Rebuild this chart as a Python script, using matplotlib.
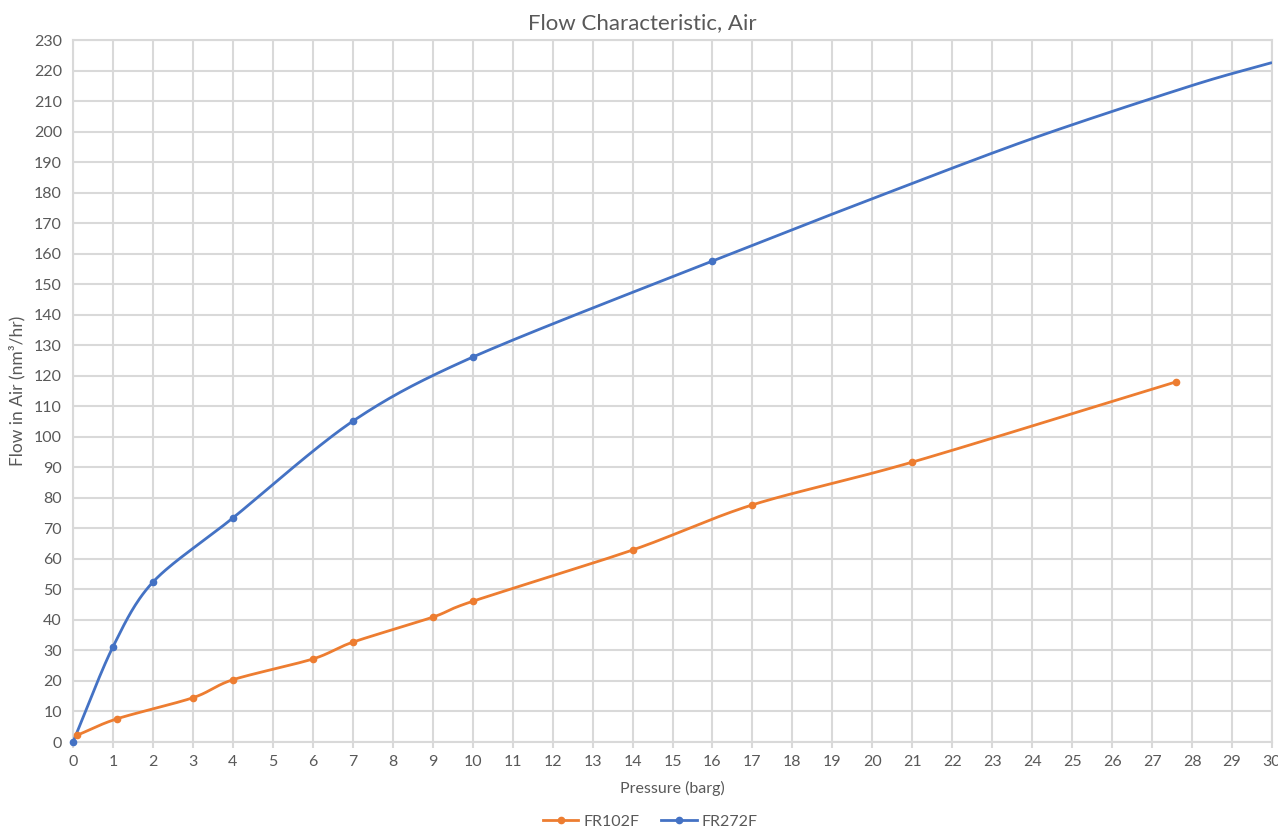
import numpy as np
import matplotlib
matplotlib.use("Agg")
import matplotlib.pyplot as plt

plt.rcParams['font.family'] = ['Lato', 'DejaVu Sans']

# Data
fr102_x = [0.1, 1.1, 3, 4, 6, 7, 9, 10, 14, 17, 21, 27.6]
fr102_y = [2.2, 7.6, 14.5, 20.4, 27.2, 32.7, 40.9, 46.1, 62.9, 77.7, 91.7, 118.0]
fr272_x = [0, 1, 2, 4, 7, 10, 16]
fr272_y = [0, 31.2, 52.4, 73.4, 105.1, 126.1, 157.6]
# unmarked tail of the FR272F curve (line continues to right edge)
fr272_tail_x = [20, 24, 28, 30]
fr272_tail_y = [178.0, 197.7, 215.1, 222.6]

x_ticks = list(range(0, 31))
y_ticks = list(range(0, 231, 10))

ORANGE = '#ED7D31'
BLUE = '#4472C4'
GRID = '#D9D9D9'
TEXT = '#595959'


def smooth(xs, ys, n=30):
    pts = np.column_stack([xs, ys]).astype(float)
    p = np.vstack([pts[0] - (pts[1] - pts[0]), pts, pts[-1] + (pts[-1] - pts[-2])])
    out = []
    t = np.linspace(0, 1, n)[:, None]
    for i in range(1, len(p) - 2):
        p0, p1, p2, p3 = p[i - 1], p[i], p[i + 1], p[i + 2]
        m1 = (p2 - p0) / 2 * 0.9
        m2 = (p3 - p1) / 2 * 0.9
        h00 = 2 * t**3 - 3 * t**2 + 1
        h10 = t**3 - 2 * t**2 + t
        h01 = -2 * t**3 + 3 * t**2
        h11 = t**3 - t**2
        seg = h00 * p1 + h10 * m1 + h01 * p2 + h11 * m2
        out.append(seg if i == 1 else seg[1:])
    out = np.vstack(out)
    return out[:, 0], out[:, 1]


fig = plt.figure(figsize=(12.78, 8.30), dpi=100)
ax = fig.add_axes([73 / 1278, 88 / 830, 1199 / 1278, 702 / 830])

sx, sy = smooth(fr102_x, fr102_y)
ax.plot(sx, sy, color=ORANGE, lw=2.0, solid_capstyle='round', zorder=3)
ax.plot(fr102_x, fr102_y, 'o', color=ORANGE, ms=4.5, zorder=4)

bx, by = smooth(fr272_x + fr272_tail_x, fr272_y + fr272_tail_y)
ax.plot(bx, by, color=BLUE, lw=2.0, solid_capstyle='butt', zorder=3)
ax.plot(fr272_x, fr272_y, 'o', color=BLUE, ms=4.5, zorder=4, clip_on=False)

# legend proxies
ax.plot([], [], '-o', color=ORANGE, lw=2.0, ms=4.5, label='FR102F')
ax.plot([], [], '-o', color=BLUE, lw=2.0, ms=4.5, label='FR272F')

ax.set_xlim(0, 30)
ax.set_ylim(0, 230)
ax.set_xticks(x_ticks)
ax.set_yticks(y_ticks)
ax.grid(True, color=GRID, lw=1.5, zorder=0)
for s in ax.spines.values():
    s.set_color(GRID)
    s.set_linewidth(1.5)
ax.tick_params(axis='x', colors=TEXT, labelsize=11.5, length=4, width=1.5, color=GRID, pad=5)
ax.tick_params(axis='y', colors=TEXT, labelsize=11.5, length=0, pad=8)

fig.text(642 / 1278, 1 - 23 / 830, 'Flow Characteristic, Air', color=TEXT, fontsize=16,
         ha='center', va='center')
ax.set_xlabel('Pressure (barg)', color=TEXT, fontsize=11.5, labelpad=9)
ax.set_ylabel('Flow in Air (nm³/hr)', color=TEXT, fontsize=12.5, labelpad=6)

leg = ax.legend(loc='upper center', bbox_to_anchor=(0.4815, -0.083), ncol=2, frameon=False,
                fontsize=11.5, handlelength=2.2, columnspacing=1.4, handletextpad=0.3)
for t in leg.get_texts():
    t.set_color(TEXT)

fig.savefig('out.png', dpi=100)
